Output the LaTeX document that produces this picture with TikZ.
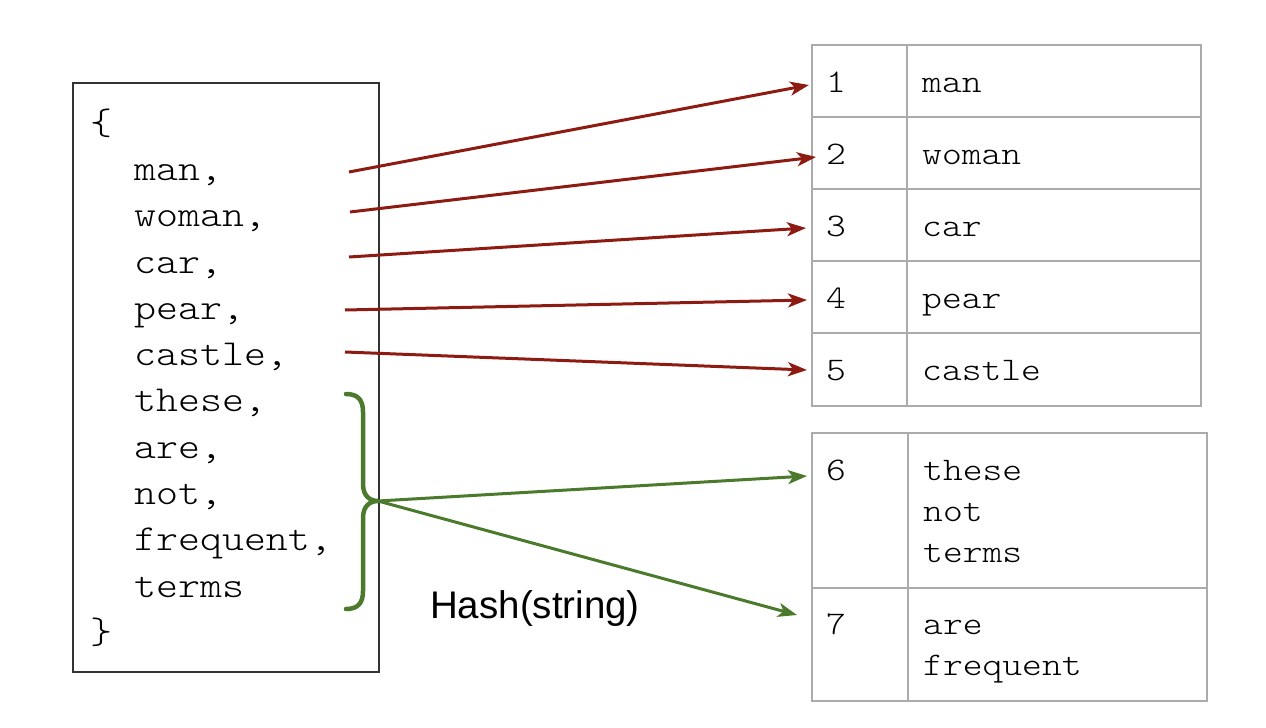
\documentclass[tikz,border=0pt]{standalone}
\usepackage{fontspec}
\setmainfont{Liberation Sans}
\setmonofont[FakeStretch=1.143]{Latin Modern Mono Light}
\usetikzlibrary{arrows.meta}
\definecolor{arrred}{HTML}{8E1B12}
\definecolor{arrgreen}{HTML}{4B7A2C}
\definecolor{tblgray}{HTML}{ABABAB}
\definecolor{boxgray}{HTML}{333333}
\begin{document}
\begin{tikzpicture}[x=1pt,y=-1pt,
  code/.style={anchor=base west, inner sep=0pt, font=\ttfamily\fontsize{36.6}{40}\selectfont},
  cell/.style={anchor=base west, inner sep=0pt, font=\ttfamily\fontsize{33}{40}\selectfont},
  redarrow/.style={draw=arrred, line width=3pt, -{Stealth[length=19pt,width=14pt,inset=5pt]}},
  greenarrow/.style={draw=arrgreen, line width=3pt, -{Stealth[length=19pt,width=14pt,inset=5pt]}},
  tbl/.style={draw=tblgray, line width=2pt},
  listbox/.style={draw=boxgray, line width=2pt},
  bracestyle/.style={draw=arrgreen, line width=4.5pt, line cap=round}
]
\path[use as bounding box] (0,0) rectangle (1266,728);

% left list box
\draw[listbox] (73,83) rectangle (379,672);
\node[code] (lb) at (90,134) {\{};
\node[code] (w1) at (134,180) {man,};
\node[code] (w2) at (134,226) {woman,};
\node[code] (w3) at (134,273) {car,};
\node[code] (w4) at (134,319) {pear,};
\node[code] (w5) at (134,365) {castle,};
\node[code] (w6) at (134,411) {these,};
\node[code] (w7) at (134,458) {are,};
\node[code] (w8) at (134,504) {not,};
\node[code] (w9) at (134,550) {frequent,};
\node[code] (w10) at (134,597) {terms};
\node[code] (rb) at (90,643) {\}};

% brace
\draw[bracestyle] (346,394) .. controls (358,394) and (363,400) .. (363,412) -- (363,484)
  .. controls (363,496) and (370,501) .. (378,501)
  .. controls (370,501) and (363,506) .. (363,518) -- (363,591)
  .. controls (363,603) and (358,609) .. (346,609);
\coordinate (btip) at (378,501);

% table 1
\draw[tbl] (812,45) rectangle (1201,406);
\foreach \yy in {117,189,261,333} \draw[tbl] (812,\yy) -- (1201,\yy);
\draw[tbl] (907,45) -- (907,406);
\node[cell] (n1) at (826,92) {1};   \node[cell] (c1) at (922,92) {man};
\node[cell] (n2) at (826,164) {2};  \node[cell] (c2) at (922,164) {woman};
\node[cell] (n3) at (826,236) {3};  \node[cell] (c3) at (922,236) {car};
\node[cell] (n4) at (826,308) {4};  \node[cell] (c4) at (922,308) {pear};
\node[cell] (n5) at (826,380) {5};  \node[cell] (c5) at (922,380) {castle};

% table 2
\draw[tbl] (812,433) rectangle (1207,701);
\draw[tbl] (812,588) -- (1207,588);
\draw[tbl] (908,433) -- (908,701);
\node[cell] (n6) at (826,480) {6};
\node[cell] (c6a) at (923,480) {these};
\node[cell] (c6b) at (923,521) {not};
\node[cell] (c6c) at (923,562) {terms};
\node[cell] (n7) at (826,634) {7};
\node[cell] (c7a) at (923,634) {are};
\node[cell] (c7b) at (923,675) {frequent};

% arrow endpoints
\coordinate (s1) at (349,172);
\coordinate (s2) at (350,212);
\coordinate (s3) at (349,257);
\coordinate (s4) at (345,310);
\coordinate (s5) at (345,352);
\coordinate (t1) at (809,85);
\coordinate (t2) at (816,157);
\coordinate (t3) at (806,228);
\coordinate (t4) at (807,300);
\coordinate (t5) at (807,370);
\coordinate (t6) at (807,476);
\coordinate (t7) at (797,615);

\draw[redarrow] (s1) -- (t1);
\draw[redarrow] (s2) -- (t2);
\draw[redarrow] (s3) -- (t3);
\draw[redarrow] (s4) -- (t4);
\draw[redarrow] (s5) -- (t5);
\draw[greenarrow] (btip) -- (t6);
\draw[greenarrow] (btip) -- (t7);

\node[font=\fontsize{38.5}{42}\selectfont, inner sep=0pt, anchor=base] (hash) at (535,618) {Hash(string)};
\end{tikzpicture}
\end{document}
